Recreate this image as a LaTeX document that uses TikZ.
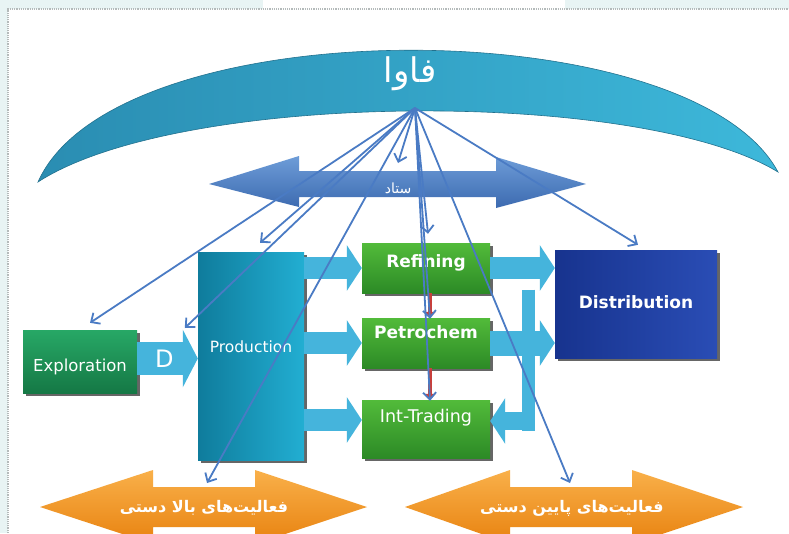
\documentclass[tikz,border=0pt]{standalone}
\usepackage{fontspec}
\setmainfont{DejaVu Sans}
\newfontfamily\arabicfont[Script=Arabic]{DejaVu Sans}
\TeXXeTstate=1
\usetikzlibrary{arrows.meta, positioning, calc, shadows}

\definecolor{framebg}{HTML}{E8F4F4}
\definecolor{framegray}{HTML}{B4BABA}
\definecolor{arcdark}{HTML}{2A8DB2}
\definecolor{arclight}{HTML}{3DB8DA}
\definecolor{stadtop}{HTML}{6E9DD8}
\definecolor{stadbot}{HTML}{3C6AB0}
\definecolor{prodleft}{HTML}{0F7C9C}
\definecolor{prodright}{HTML}{22AED2}
\definecolor{expltop}{HTML}{27A866}
\definecolor{explbot}{HTML}{157845}
\definecolor{grntop}{HTML}{52BB3A}
\definecolor{grnbot}{HTML}{2C8A26}
\definecolor{distleft}{HTML}{17338E}
\definecolor{distright}{HTML}{2A4DB5}
\definecolor{arrblue}{HTML}{45B4DC}
\definecolor{arrred}{HTML}{C8403C}
\definecolor{fanblue}{HTML}{4A7BC4}
\definecolor{ortop}{HTML}{F9B04A}
\definecolor{orbot}{HTML}{E8820F}

\begin{document}
\begin{tikzpicture}[
    x=1pt, y=-1pt,
    box/.style={rectangle, inner sep=0pt, drop shadow={shadow xshift=3pt, shadow yshift=-3pt, fill=black, opacity=.6}},
    greenbox/.style={box, minimum width=128pt, minimum height=50pt, top color=grntop, bottom color=grnbot},
    explbox/.style={box, minimum width=114pt, minimum height=63pt, top color=expltop, bottom color=explbot},
    prodbox/.style={box, minimum width=106pt, minimum height=208pt, left color=prodleft, right color=prodright},
    distbox/.style={box, minimum width=162pt, minimum height=108pt, left color=distleft, right color=distright},
    txt/.style={text=white, font=\fontsize{16.5}{18}\selectfont},
    btxt/.style={text=white, font=\bfseries\fontsize{17}{19}\selectfont},
    fatxt/.style={text=white, font=\arabicfont\bfseries\fontsize{16}{20}\selectfont},
    blockarr/.style={draw=arrblue, line width=22pt, -{Triangle[length=15pt, width=45pt]}},
    redarr/.style={draw=arrred, line width=4pt, -{Triangle[length=6pt, width=11pt]}},
    fan/.style={draw=fanblue, line width=1.8pt, -{Straight Barb[length=7pt, width=13pt]}},
]
\useasboundingbox (0,0) rectangle (789,533);

% page frame
\fill[framebg] (0,0) rectangle (789,533);
\fill[white] (8,9) rectangle (789,533);
\fill[white] (263,0) rectangle (565,9);
\draw[framegray, densely dotted, line width=1.2pt] (8,533) -- (8,9) -- (789,9);

% top arc
\shade[left color=arcdark, right color=arclight, draw=arcdark!80!black, line width=.6pt]
    (38,182) .. controls (115,8) and (690,8) .. (778,172)
    .. controls (640,88) and (180,90) .. cycle;
\node[text=white, font=\arabicfont\fontsize{34}{38}\selectfont] (fava) at (410,74) {\beginR فاوا\endR};
\coordinate (hub) at (415,108);

% staff double arrow
\shade[top color=stadtop, bottom color=stadbot]
    (209,184) -- (299,156) -- (299,171) -- (496,171) -- (496,157) -- (586,184)
    -- (496,208) -- (496,197) -- (299,197) -- (299,207) -- cycle;
\node[text=white, font=\arabicfont\fontsize{14}{16}\selectfont] (stad) at (398,188) {\beginR ستاد\endR};

% boxes
\node[explbox, label={[txt, yshift=-5pt]center:Exploration}] (expl) at (80,361.5) {};
\node[prodbox, label={[txt, font=\fontsize{15.5}{17}\selectfont, yshift=9pt]center:Production}] (prod) at (251,356) {};
\node[greenbox, label={[btxt, yshift=5pt]center:Refining}] (ref) at (426,268) {};
\node[greenbox, label={[btxt, yshift=11pt]center:Petrochem}] (pet) at (426,343) {};
\node[greenbox, minimum height=58pt, label={[txt, font=\fontsize{17.5}{19}\selectfont, yshift=11pt]center:Int-Trading}] (trade) at (426,429) {};
\node[distbox, label={[btxt, yshift=2pt]center:Distribution}] (dist) at (636,304) {};

% block arrows
\draw[blockarr, line width=33pt, -{Triangle[length=15pt, width=57pt]}] ($(expl.east)+(0,-3)$) -- ($(expl.east -| prod.west)+(0,-3)$)
    node[pos=.45, text=white, font=\fontsize{24}{26}\selectfont] (dlbl) {D};
\draw[blockarr] (prod.east |- ref.west) -- (ref.west);
\draw[blockarr] (prod.east |- pet.west) -- (pet.west);
\draw[blockarr] ($(prod.east |- trade.west)+(0,-9)$) -- ($(trade.west)+(0,-9)$);
\draw[blockarr] (ref.east) -- (ref.east -| dist.west);
\draw[blockarr, line width=25pt] (pet.east) -- (pet.east -| dist.west);
\coordinate (jn) at ($(ref.east)!0.6!(dist.west)$);
\draw[arrblue, line width=13pt] (jn) -- ($(jn |- trade.east)+(0,2)$);
\draw[blockarr, line width=18pt] ($(jn |- trade.east)+(6,-8)$) -- ($(trade.east)+(0,-8)$);

% red arrows
\draw[redarr] ($(ref.south)+(4,0)$) -- ($(pet.north)+(4,0)$);
\draw[redarr] ($(pet.south)+(4,0)$) -- ($(trade.north)+(4,0)$);

% upstream / downstream arrows
\shade[top color=ortop, bottom color=orbot]
    (40,507) -- (153,470) -- (153,487) -- (255,487) -- (255,470) -- (367,507)
    -- (255,544) -- (255,527) -- (153,527) -- (153,544) -- cycle;
\node[fatxt] (upst) at (204,508) {\beginR فعالیت^^^^200cهای بالا دستی\endR};
\shade[top color=ortop, bottom color=orbot]
    (405,507) -- (510,470) -- (510,487) -- (632,487) -- (632,470) -- (743,507)
    -- (632,544) -- (632,527) -- (510,527) -- (510,544) -- cycle;
\node[fatxt] (dnst) at (572,508) {\beginR فعالیت^^^^200cهای پایین دستی\endR};

% fan from fava
\coordinate (texpl) at ($(expl.north)+(10,-7)$);
\coordinate (tprodw) at ($(prod.west)+(-13,-28)$);
\coordinate (tprodn) at ($(prod.north)+(9,-9)$);
\coordinate (tup) at ($(upst.center)+(3,-25)$);
\coordinate (tstad) at ($(stad.center)+(0,-25)$);
\coordinate (tref) at ($(ref.north)+(2,-9)$);
\coordinate (tpet) at ($(pet.north)+(4,1)$);
\coordinate (ttrade) at ($(trade.north)+(4,1)$);
\coordinate (tdn) at ($(dnst.center)+(-2,-25)$);
\coordinate (tdist) at ($(dist.north)+(2,-5)$);
\foreach \t in {texpl,tprodw,tprodn,tup,tstad,tref,tpet,ttrade,tdn,tdist} \draw[fan] (hub) -- (\t);
\end{tikzpicture}
\end{document}
